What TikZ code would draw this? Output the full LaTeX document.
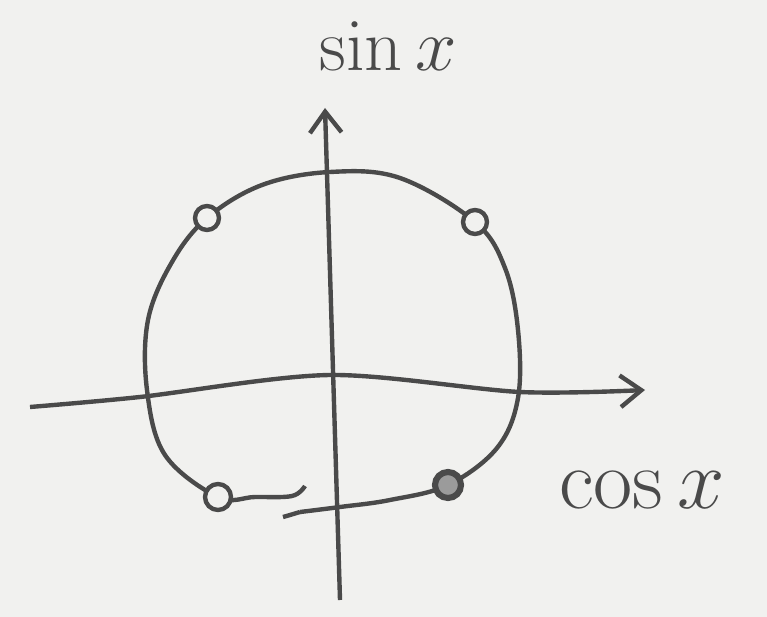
\documentclass[tikz,border=0pt]{standalone}
\usepackage{amsmath, amssymb}
\usepackage{xcolor}
\usepackage{tikz}
\usetikzlibrary{positioning, arrows.meta, calc}

\definecolor{paper}{HTML}{F1F1EF}
\definecolor{pencil}{HTML}{4A4A4A}

\begin{document}
\begin{tikzpicture}[x=0.02cm, y=-0.02cm, line width=2.5pt, draw=pencil, text=pencil]
    \fill[paper] (0,0) rectangle (767,617);
    \useasboundingbox (0,0) rectangle (767,617);

    % axes
    \coordinate (ybot) at (340,600);
    \coordinate (ytop) at (325,108);
    \coordinate (xl) at (30,407);
    \coordinate (xr) at (645,390);
    \draw[-{Straight Barb[length=12pt, width=18pt]}] (ybot) -- (ytop);
    \draw[-{Straight Barb[length=12pt, width=18pt]}] plot[smooth] coordinates {(xl) (140,397) (330,375) (520,392) (xr)};

    % the closed-ish loop
    \coordinate (p1) at (207,218);
    \coordinate (p2) at (475,222);
    \coordinate (p3) at (218,497);
    \coordinate (p4) at (448,485);
    \draw plot[smooth, tension=0.6] coordinates {(305,486) (292,496) (255,497) (p3) (165,455) (147,390) (148,320) (172,262) (p1) (262,185) (330,172) (400,178) (p2) (505,268) (518,330) (518,398) (497,448) (p4) (390,500) (340,507) (300,512)};
    \draw plot[smooth] coordinates {(300,512) (290,515) (283,517)};

    % marked points
    \node[circle, draw, fill=paper, minimum size=0.48cm, inner sep=0pt] (o1) at (p1) {};
    \node[circle, draw, fill=paper, minimum size=0.48cm, inner sep=0pt] (o2) at (p2) {};
    \node[circle, draw, fill=paper, minimum size=0.52cm, inner sep=0pt] (o3) at (p3) {};
    \node[circle, draw, line width=3.5pt, fill=pencil!55, minimum size=0.52cm, inner sep=0pt] (o4) at (p4) {};

    % labels
    \node[scale=1.7] (sinlbl) at (388,46) {\Huge $\sin x$};
    \node[scale=1.95] (coslbl) at (642,490) {\Huge $\cos x$};
\end{tikzpicture}
\end{document}
